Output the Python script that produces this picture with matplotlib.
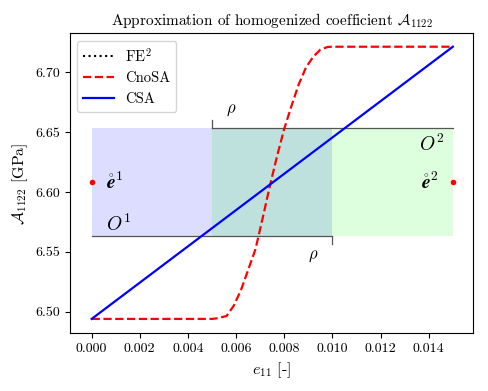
import matplotlib
matplotlib.use("Agg")
import matplotlib.pyplot as plt
import numpy as np

plt.rcParams['font.family'] = 'serif'
plt.rcParams['font.serif'] = ['cmr10', 'DejaVu Serif']
plt.rcParams['mathtext.fontset'] = 'cm'
plt.rcParams['axes.formatter.use_mathtext'] = True
plt.rcParams['font.size'] = 10

# Data
csa_x = [0.0, 0.015]
csa_y = [6.494, 6.7214]

cnosa_x = [0.0, 0.0050, 0.0052, 0.0056, 0.0059, 0.0062, 0.0065, 0.0068, 0.0071,
           0.0074, 0.0077, 0.0080, 0.0083, 0.0086, 0.0089, 0.0092, 0.0095,
           0.0098, 0.0100, 0.015]
cnosa_y = [6.494, 6.494, 6.4945, 6.4964, 6.505, 6.518, 6.535, 6.552, 6.578,
           6.605, 6.630, 6.653, 6.672, 6.690, 6.704, 6.713, 6.719,
           6.7212, 6.7214, 6.7214]

fe2_x = []
fe2_y = []

point_x = [0.0, 0.015]
point_y = [6.608, 6.608]

region1_x = [0.0, 0.010]
region2_x = [0.005, 0.015]
region_y = [6.5632, 6.6535]

fig = plt.figure(figsize=(4.88, 3.91), dpi=100)
ax = fig.add_axes([0.1434, 0.1476, 0.8265, 0.7672])

ax.fill_between(region1_x, region_y[0], region_y[1], color='blue', alpha=0.135, lw=0)
ax.fill_between(region2_x, region_y[0], region_y[1], color='lime', alpha=0.135, lw=0)

bc = '#555555'
tick_h = 0.0068
ax.plot(region2_x, [region_y[1], region_y[1]], color=bc, lw=0.9)
ax.plot([region2_x[0], region2_x[0]], [region_y[1], region_y[1] + tick_h], color=bc, lw=0.9)
ax.plot(region1_x, [region_y[0], region_y[0]], color=bc, lw=0.9)
ax.plot([region1_x[1], region1_x[1]], [region_y[0], region_y[0] - tick_h], color=bc, lw=0.9)

ax.plot(fe2_x, fe2_y, color='black', ls=':', lw=1.5, label='FE$^2$')
ax.plot(cnosa_x, cnosa_y, color='red', ls='--', lw=1.6, label='CnoSA')
ax.plot(csa_x, csa_y, color='blue', ls='-', lw=1.6, label='CSA')

ax.plot(point_x, point_y, 'o', color='red', ms=4, mec='none', zorder=5)

ax.text(0.0006, 6.608, r'$\mathring{\mathbfit{e}}^1$', fontsize=14, ha='left', va='center')
ax.text(0.0144, 6.608, r'$\mathring{\mathbfit{e}}^2$', fontsize=14, ha='right', va='center')
ax.text(0.0011, 6.573, r'$O^1$', fontsize=14, ha='center', va='center')
ax.text(0.0141, 6.640, r'$O^2$', fontsize=14, ha='center', va='center')
ax.text(0.0058, 6.668, r'$\rho$', fontsize=12, ha='center', va='center')
ax.text(0.0092, 6.546, r'$\rho$', fontsize=12, ha='center', va='center')

ax.set_xlim(-0.0009, 0.01585)
ax.set_ylim(6.482, 6.7326)
xt = np.arange(0, 0.0141, 0.002)
ax.set_xticks(xt)
ax.set_xticklabels([f'{v:.3f}' for v in xt])
ax.set_yticks([6.50, 6.55, 6.60, 6.65, 6.70])
ax.set_yticklabels(['6.50', '6.55', '6.60', '6.65', '6.70'])

ax.set_xlabel(r'$e_{11}$ [-]', fontsize=11.5)
ax.set_ylabel(r'$\mathcal{A}_{1122}$ [GPa]', fontsize=11.5)
ax.set_title(r'Approximation of homogenized coefficient $\mathcal{A}_{1122}$', fontsize=11)
ax.legend(loc='upper left', fontsize=10.5, handlelength=2.1, framealpha=0.8)

fig.savefig('out.png', dpi=100)
